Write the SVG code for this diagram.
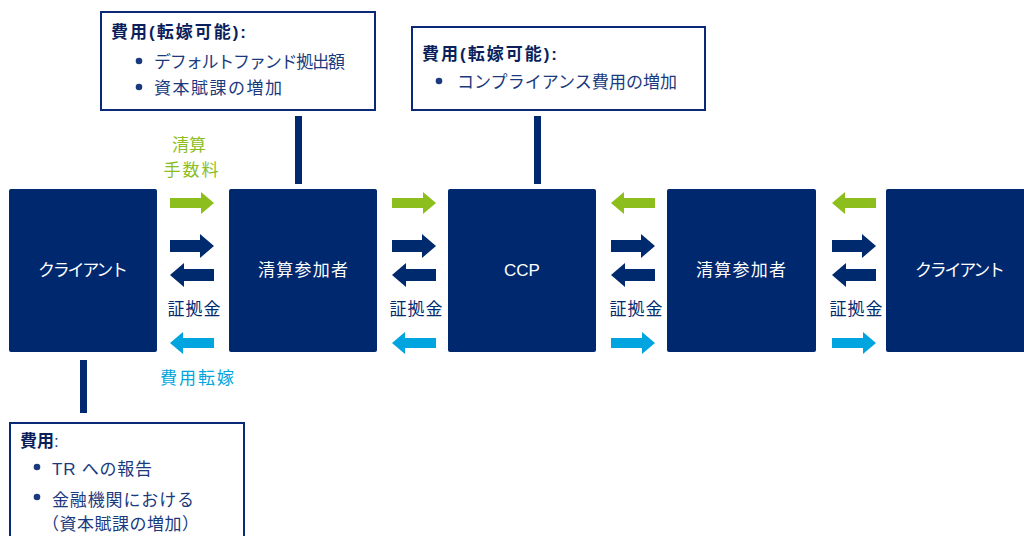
<svg xmlns="http://www.w3.org/2000/svg" width="1024" height="536" viewBox="0 0 1024 536">
<defs>
<style>
.node{fill:#00286E;}
.nl{fill:#fff;font-family:"Liberation Sans","Noto Sans CJK JP",sans-serif;font-size:17px;text-anchor:middle;}
.cb{fill:#fff;stroke:#0A2A78;stroke-width:2;}
.t{fill:#1B3A7E;font-family:"Liberation Sans","Noto Sans CJK JP",sans-serif;font-size:17px;}
.h{fill:#0A1F5C;font-weight:bold;}
.lbl{font-family:"Liberation Sans","Noto Sans CJK JP",sans-serif;font-size:17px;text-anchor:middle;}
.g{fill:#8CBE1E;}
.n{fill:#002A6E;}
.c{fill:#00A5DF;}
.stem{fill:#00286E;}
.dot{fill:#1B3A7E;}
</style>
<path id="ar" d="M-22,-5 H9 V-11 L22,0 L9,11 V5 H-22 Z"/>
<path id="arn" d="M-22,-6 H8 V-12 L22,0 L8,12 V6 H-22 Z"/>
</defs>

<g id="connectors">
<rect class="stem" x="295" y="116" width="7" height="68"/>
<rect class="stem" x="534" y="116" width="7" height="68"/>
<rect class="stem" x="80" y="360" width="7" height="53"/>
<use href="#ar" class="g" transform="translate(192,203)"/>
<use href="#arn" class="n" transform="translate(192,246)"/>
<use href="#arn" class="n" transform="translate(192,275) scale(-1,1)"/>
<use href="#ar" class="c" transform="translate(192,343) scale(-1,1)"/>
<use href="#ar" class="g" transform="translate(414,203)"/>
<use href="#arn" class="n" transform="translate(414,246)"/>
<use href="#arn" class="n" transform="translate(414,275) scale(-1,1)"/>
<use href="#ar" class="c" transform="translate(414,343) scale(-1,1)"/>
<use href="#ar" class="g" transform="translate(633,203) scale(-1,1)"/>
<use href="#arn" class="n" transform="translate(633,246)"/>
<use href="#arn" class="n" transform="translate(633,275) scale(-1,1)"/>
<use href="#ar" class="c" transform="translate(633,343)"/>
<use href="#ar" class="g" transform="translate(854,203) scale(-1,1)"/>
<use href="#arn" class="n" transform="translate(854,246)"/>
<use href="#arn" class="n" transform="translate(854,275) scale(-1,1)"/>
<use href="#ar" class="c" transform="translate(854,343)"/>
<text class="lbl g" x="189" y="151">清算</text>
<text class="lbl g" x="191" y="176" textLength="55">手数料</text>
<text class="lbl n" x="194" y="315" textLength="53">証拠金</text>
<text class="lbl n" x="416" y="315" textLength="53">証拠金</text>
<text class="lbl n" x="636" y="315" textLength="53">証拠金</text>
<text class="lbl n" x="856" y="315" textLength="53">証拠金</text>
<text class="lbl c" x="197" y="384" textLength="74">費用転嫁</text>
</g>

<g id="client-left">
<rect class="node" x="9" y="189" width="148" height="163" rx="2"/>
<text class="nl" x="83" y="276" textLength="90">クライアント</text>
</g>
<g id="cm-left">
<rect class="node" x="229" y="189" width="148" height="163" rx="2"/>
<text class="nl" x="303" y="276" textLength="90">清算参加者</text>
</g>
<g id="ccp">
<rect class="node" x="448" y="189" width="148" height="163" rx="2"/>
<text class="nl" x="522" y="276">CCP</text>
</g>
<g id="cm-right">
<rect class="node" x="667" y="189" width="149" height="163" rx="2"/>
<text class="nl" x="741" y="276" textLength="90">清算参加者</text>
</g>
<g id="client-right">
<rect class="node" x="886" y="189" width="142" height="163" rx="2"/>
<text class="nl" x="960" y="276" textLength="90">クライアント</text>
</g>

<g id="callout-cm">
<rect class="cb" x="101" y="12" width="274" height="98"/>
<text class="t h" x="111" y="38" textLength="135">費用(転嫁可能):</text>
<circle class="dot" cx="139" cy="61" r="3.3"/>
<text class="t" x="154" y="68" textLength="191">デフォルトファンド拠出額</text>
<circle class="dot" cx="139" cy="87" r="3.3"/>
<text class="t" x="154" y="94" textLength="128">資本賦課の増加</text>
</g>

<g id="callout-ccp">
<rect class="cb" x="412" y="27" width="293" height="83"/>
<text class="t h" x="422" y="60" textLength="135">費用(転嫁可能):</text>
<circle class="dot" cx="439" cy="81" r="3.3"/>
<text class="t" x="457" y="88" textLength="220">コンプライアンス費用の増加</text>
</g>

<g id="callout-client">
<rect class="cb" x="10" y="423" width="234" height="120"/>
<text class="t" x="20" y="447"><tspan class="h">費用</tspan>:</text>
<circle class="dot" cx="37" cy="467" r="3.3"/>
<text class="t" x="52" y="475" textLength="100">TR への報告</text>
<circle class="dot" cx="37" cy="497" r="3.3"/>
<text class="t" x="52" y="506" textLength="142">金融機関における</text>
<text class="t" x="42" y="530" textLength="157">（資本賦課の増加）</text>
</g>
</svg>
